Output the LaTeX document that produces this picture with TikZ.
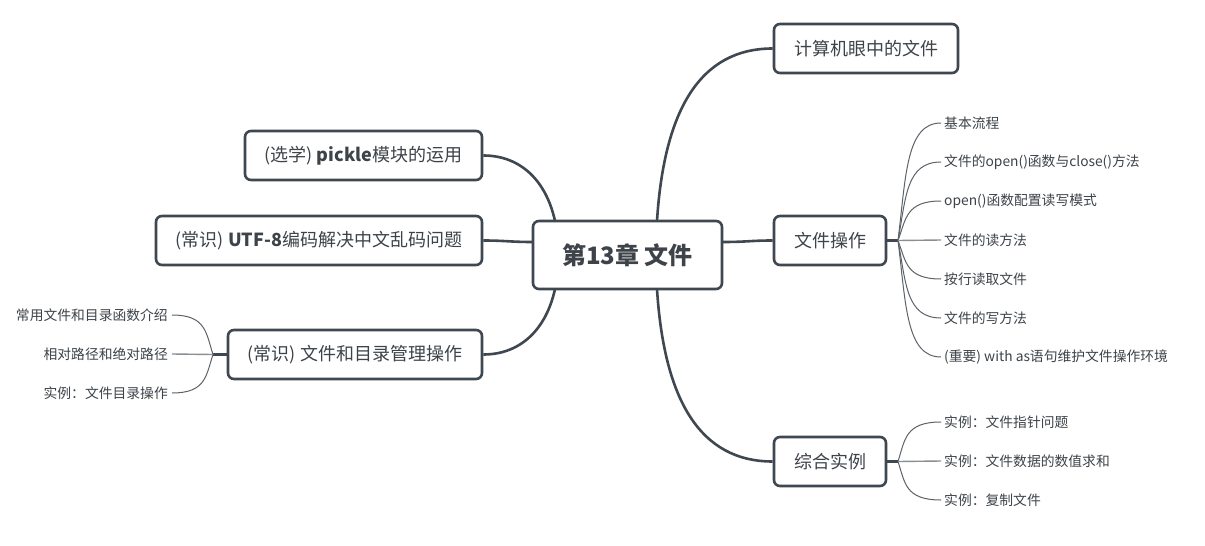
\documentclass[tikz,border=0pt]{standalone}
\usepackage{fontspec}
\setmainfont{Noto Sans CJK SC}
\usetikzlibrary{calc}
\pgfdeclarelayer{bg}
\pgfdeclarelayer{lines}
\pgfsetlayers{bg,lines,main}
\begin{document}
\begin{tikzpicture}[x=1pt,y=-1pt,
  box/.style={draw=boxc,line width=2.6pt,rounded corners=6pt,fill=white,text=txt,inner sep=0pt,font=\fontsize{18}{20}\selectfont},
  leaf/.style={text=txt,inner sep=0pt,font=\fontsize{13.8}{15}\selectfont},
  conn/.style={draw=boxc,line width=2.6pt},
  thinl/.style={draw=leafc,line width=1pt},
  midl/.style={draw=leafm,line width=1.4pt}]
\definecolor{boxc}{HTML}{3F4750}
\definecolor{txt}{HTML}{3D4349}
\definecolor{leafc}{HTML}{5D636A}
\definecolor{leafm}{HTML}{8A8F94}
\useasboundingbox (0,0) rectangle (1205,546);
\begin{pgfonlayer}{bg}
\fill[white] (0,0) rectangle (1205,546);
\end{pgfonlayer}

% central
\node[box,minimum width=189pt,minimum height=68pt,font=\fontsize{24}{26}\selectfont\bfseries] (c) at (627.5,255) {第13章 文件};

% right boxes
\node[box,minimum width=184pt,minimum height=49pt] (r1) at (866,48.5) {计算机眼中的文件};
\node[box,minimum width=112pt,minimum height=49pt] (r2) at (830,240.5) {文件操作};
\node[box,minimum width=112pt,minimum height=49pt] (r3) at (830,461.5) {综合实例};

% left boxes
\node[box,minimum width=237pt,minimum height=49pt] (l1) at (363.5,155.5) {(选学) \textbf{pickle}模块的运用};
\node[box,minimum width=326pt,minimum height=49pt] (l2) at (319,240.5) {(常识) \textbf{UTF-8}编码解决中文乱码问题};
\node[box,minimum width=254pt,minimum height=49pt] (l3) at (355,354.5) {(常识) 文件和目录管理操作};

% leaves
\node[leaf,anchor=west] (a1) at (944,123) {基本流程};
\node[leaf,anchor=west] (a2) at (944,162) {文件的open()函数与close()方法};
\node[leaf,anchor=west] (a3) at (944,201) {open()函数配置读写模式};
\node[leaf,anchor=west] (a4) at (944,240) {文件的读方法};
\node[leaf,anchor=west] (a5) at (944,279) {按行读取文件};
\node[leaf,anchor=west] (a6) at (944,318) {文件的写方法};
\node[leaf,anchor=west] (a7) at (944,357) {(重要) with as语句维护文件操作环境};

\node[leaf,anchor=west] (b1) at (944,422) {实例：文件指针问题};
\node[leaf,anchor=west] (b2) at (944,461) {实例：文件数据的数值求和};
\node[leaf,anchor=west] (b3) at (944,500) {实例：复制文件};

\node[leaf,anchor=east] (d1) at (168,315) {常用文件和目录函数介绍};
\node[leaf,anchor=east] (d2) at (168,354) {相对路径和绝对路径};
\node[leaf,anchor=east] (d3) at (168,393) {实例：文件目录操作};

\coordinate (pa) at (898,240.5);
\coordinate (pb) at (898,461.5);
\coordinate (pd) at (213,354.5);

\coordinate (ct1) at (657,221);
\coordinate (cb1) at (657,289);
\coordinate (ct2) at (555,221);
\coordinate (cb2) at (555,289);
\coordinate (cr) at (722,242);
\coordinate (cl) at (533,242);

\begin{pgfonlayer}{lines}
\draw[conn] (ct1) .. controls (664,110) and (700,48.5) .. (r1.west);
\draw[conn] (cb1) .. controls (664,400) and (700,461.5) .. (r3.west);
\draw[conn] (cr) .. controls (748,242) and (750,240.5) .. (r2.west);
\draw[conn] (ct2) .. controls (546,180) and (520,155.5) .. (l1.east);
\draw[conn] (cb2) .. controls (546,330) and (520,354.5) .. (l3.east);
\draw[conn] (cl) .. controls (510,242) and (505,240.5) .. (l2.east);

\draw[conn] (r2.east) -- (pa);
\draw[conn] (r3.east) -- (pb);
\draw[conn] (l3.west) -- (pd);

\foreach \n/\y in {a1/123,a2/162,a3/201,a5/279,a6/318,a7/357}{
  \draw[thinl] (pa) .. controls (906,{240.5+(\y-240.5)*0.55}) and (906,\y) .. ($( \n.west)+(-3,0)$);
}
\draw[midl] (pa) -- ($(a4.west)+(-3,0)$);
\foreach \n/\y in {b1/422,b3/500}{
  \draw[thinl] (pb) .. controls (905,{461.5+(\y-461.5)*0.55}) and (905,\y) .. ($( \n.west)+(-3,0)$);
}
\draw[midl] (pb) -- ($(b2.west)+(-3,0)$);
\foreach \n/\y in {d1/315,d3/393}{
  \draw[thinl] (pd) .. controls (206,{354.5+(\y-354.5)*0.55}) and (206,\y) .. ($( \n.east)+(4,0)$);
}
\draw[midl] (pd) -- ($(d2.east)+(4,0)$);
\end{pgfonlayer}
\end{tikzpicture}
\end{document}
